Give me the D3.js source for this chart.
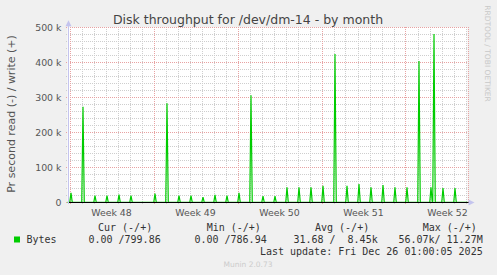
<!DOCTYPE html>
<html>
<head>
<meta charset="utf-8">
<script src="https://cdn.jsdelivr.net/npm/d3@7"></script>
<style>
  body { margin: 0; background: #f0f0f0; }
  svg { display: block; }
  .tick text { font-family: "DejaVu Sans", sans-serif; font-size: 9.4px; fill: #555; }
  .legend { font-family: "DejaVu Sans Mono", monospace; font-size: 10px; fill: #333; white-space: pre; }
</style>
</head>
<body>
<svg id="chart" width="497" height="275"></svg>
<script>

// write (+) samples, daily backup spikes, in bytes per second
let spikeTimes = [
  "2025-11-23T03:00", "2025-11-24T03:00", "2025-11-25T03:00", "2025-11-26T03:00",
  "2025-11-27T03:00", "2025-11-28T03:00", "2025-11-30T03:00", "2025-12-01T03:00",
  "2025-12-02T03:00", "2025-12-03T03:00", "2025-12-04T03:00", "2025-12-05T03:00",
  "2025-12-06T03:00", "2025-12-07T03:00", "2025-12-08T03:00", "2025-12-09T03:00",
  "2025-12-10T03:00", "2025-12-11T03:00", "2025-12-12T03:00", "2025-12-13T03:00",
  "2025-12-14T03:00", "2025-12-15T03:00", "2025-12-16T03:00", "2025-12-17T03:00",
  "2025-12-18T03:00", "2025-12-19T03:00", "2025-12-20T03:00", "2025-12-21T03:00",
  "2025-12-22T03:00", "2025-12-23T03:00", "2025-12-23T09:00", "2025-12-24T03:00",
  "2025-12-25T03:00"
]
let spikeValues = [
  27000, 273000, 19000, 19000,
  22000, 19000, 25000, 283000,
  19000, 19000, 15000, 21000,
  19000, 27000, 306000, 18000,
  18000, 43000, 43000, 43000,
  47000, 424000, 47000, 52000,
  43000, 49000, 43000, 43000,
  404000, 43000, 481000, 41000,
  41000
]

let yTicks = [0, 100000, 200000, 300000, 400000, 500000]
let weekStarts = ["2025-11-23", "2025-11-30", "2025-12-07", "2025-12-14", "2025-12-21"]

let legendHead = ["Cur (-/+)", "Min (-/+)", "Avg (-/+)", "Max (-/+)"]
let legendVals = ["0.00 /799.86", "0.00 /786.94", "31.68 /  8.45k", "56.07k/ 11.27M"]
let lastUpdate = "Last update: Fri Dec 26 01:00:05 2025"

let parseT = d3.utcParse("%Y-%m-%dT%H:%M")
let parseD = d3.utcParse("%Y-%m-%d")
let hour = 3600 * 1000

let tEnd = parseT("2025-12-26T04:00")
let tStart = new Date(tEnd.getTime() - 800 * hour)

let margin = {left: 67.5, right: 29.5, top: 27.3, bottom: 72.7}
let W = 497, H = 275

let svg = d3.select("#chart")

svg.append("rect").attr("width", W).attr("height", H).attr("fill", "#f0f0f0")

let x = d3.scaleUtc()
    .domain([tStart, tEnd])
    .range([margin.left, W - margin.right])

let y = d3.scaleLinear()
    .domain([0, 500000])
    .range([H - margin.bottom, margin.top])

let x0 = x.range()[0], x1 = x.range()[1]
let y0 = y(0), y1 = y(500000)

svg.append("rect")
    .attr("x", x0).attr("y", y1)
    .attr("width", x1 - x0).attr("height", y0 - y1)
    .attr("fill", "#ffffff")

// grid, minor first
let grid = svg.append("g").attr("shape-rendering", "crispEdges")

let days = d3.utcDay.range(d3.utcDay.ceil(tStart), tEnd)
grid.selectAll(".vmin").data(days).enter().append("line")
    .attr("x1", d => Math.round(x(d)) + 0.5).attr("x2", d => Math.round(x(d)) + 0.5)
    .attr("y1", y1).attr("y2", y0 + 2)
    .attr("stroke", "#cecece").attr("stroke-dasharray", "1,1")

let minorY = d3.range(0, 500001, 20000)
grid.selectAll(".hmin").data(minorY).enter().append("line")
    .attr("x1", x0 - 2).attr("x2", x1)
    .attr("y1", d => Math.round(y(d)) + 0.5).attr("y2", d => Math.round(y(d)) + 0.5)
    .attr("stroke", "#cecece").attr("stroke-dasharray", "1,1")

let weeks = weekStarts.map(parseD)
grid.selectAll(".vmaj").data(weeks).enter().append("line")
    .attr("x1", d => Math.round(x(d)) + 0.5).attr("x2", d => Math.round(x(d)) + 0.5)
    .attr("y1", y1).attr("y2", y0 + 2)
    .attr("stroke", "#e8a2a2").attr("stroke-dasharray", "1,1")

grid.selectAll(".hmaj").data(yTicks).enter().append("line")
    .attr("x1", x0 - 2).attr("x2", x1)
    .attr("y1", d => Math.round(y(d)) + 0.5).attr("y2", d => Math.round(y(d)) + 0.5)
    .attr("stroke", "#e8a2a2").attr("stroke-dasharray", "1,1")

// right frame edge of grid
grid.append("line")
    .attr("x1", Math.round(x1) + 0.5).attr("x2", Math.round(x1) + 0.5)
    .attr("y1", y1).attr("y2", y0)
    .attr("stroke", "#e8a2a2").attr("stroke-dasharray", "1,1")

// the write series: each sample rises from and falls back to zero
let pts = [[tStart, 0]]
spikeTimes.forEach((s, i) => {
    let t = parseT(s)
    pts.push([new Date(t.getTime() - 2.5 * hour), 0])
    pts.push([t, spikeValues[i]])
    pts.push([new Date(t.getTime() + 2.5 * hour), 0])
})
pts.push([tEnd, 0])

let lineFunc = d3.line()
    .x(d => x(d[0]))
    .y(d => y(d[1]))

svg.append("path")
    .attr("fill", "none")
    .attr("stroke", "#00cc00")
    .attr("stroke-width", 1.2)
    .attr("d", lineFunc(pts))

// zero rule
svg.append("line")
    .attr("x1", x0).attr("x2", x1 + 1)
    .attr("y1", Math.round(y0) + 0.5).attr("y2", Math.round(y0) + 0.5)
    .attr("stroke", "#000").attr("shape-rendering", "crispEdges")

// axes with arrows
let axisCol = "#c4c4ee"
svg.append("line")
    .attr("x1", Math.round(x0) + 0.5).attr("x2", Math.round(x0) + 0.5)
    .attr("y1", y0 + 2).attr("y2", y1 - 4)
    .attr("stroke", axisCol).attr("shape-rendering", "crispEdges")
svg.append("path")
    .attr("d", `M${Math.round(x0) - 2.5},${y1 - 1} L${Math.round(x0) + 0.5},${y1 - 7} L${Math.round(x0) + 3.5},${y1 - 1} Z`)
    .attr("fill", axisCol)
svg.append("path")
    .attr("d", `M${x1 + 1},${Math.round(y0) - 2.5} L${x1 + 7},${Math.round(y0) + 0.5} L${x1 + 1},${Math.round(y0) + 3.5} Z`)
    .attr("fill", axisCol)

// y tick labels
let fmtK = d => d === 0 ? "0" : (d / 1000) + " k"
let yAxis = svg.append("g")
    .attr("transform", "translate(" + (x0 - 6) + ",0)")
    .call(d3.axisLeft(y).tickValues(yTicks).tickFormat(fmtK).tickSize(0).tickPadding(0))
yAxis.select(".domain").remove()
yAxis.selectAll("text").attr("dy", "0.36em")

// week labels centred in their week
let fmtWeek = d3.utcFormat("%V")
svg.append("g").selectAll("text").data(weeks).enter().append("text")
    .attr("x", d => x(new Date(d.getTime() + 84 * hour)))
    .attr("y", 215.5)
    .attr("text-anchor", "middle")
    .style("font-family", "DejaVu Sans, sans-serif").style("font-size", "9.4px").style("fill", "#555")
    .text(d => "Week " + fmtWeek(new Date(d.getTime() + 84 * hour)))

// titles
svg.append("text")
    .attr("x", 248).attr("y", 23.5)
    .attr("text-anchor", "middle")
    .style("font-family", "DejaVu Sans, sans-serif").style("font-size", "12.5px").style("fill", "#444")
    .text("Disk throughput for /dev/dm-14 - by month")

svg.append("text")
    .attr("transform", "translate(15,114) rotate(-90)")
    .attr("text-anchor", "middle")
    .style("font-family", "DejaVu Sans, sans-serif").style("font-size", "11px").style("fill", "#555")
    .text("Pr second read (-) / write (+)")

svg.append("text")
    .attr("transform", "translate(485,53.5) rotate(90)")
    .attr("text-anchor", "middle")
    .style("font-family", "DejaVu Sans, sans-serif").style("font-size", "7.5px").style("fill", "#c8c8c8")
    .text("RRDTOOL / TOBI OETIKER")

// legend
let headX = [98, 206.7, 315, 422.7]
let valEnd = [160.7, 266.7, 377.7, 482.7]

svg.selectAll(".lhead").data(legendHead).enter().append("text")
    .attr("class", "legend")
    .attr("x", (d, i) => headX[i]).attr("y", 231)
    .text(d => d)

svg.append("rect")
    .attr("x", 14).attr("y", 236.5).attr("width", 6).attr("height", 6)
    .attr("fill", "#00cc00")
svg.append("text").attr("class", "legend").attr("x", 26.5).attr("y", 243).text("Bytes")

svg.selectAll(".lval").data(legendVals).enter().append("text")
    .attr("class", "legend")
    .attr("x", (d, i) => valEnd[i]).attr("y", 243)
    .attr("text-anchor", "end")
    .text(d => d)

svg.append("text").attr("class", "legend")
    .attr("x", 482.7).attr("y", 255).attr("text-anchor", "end")
    .text(lastUpdate)

svg.append("text")
    .attr("x", 248).attr("y", 267)
    .attr("text-anchor", "middle")
    .style("font-family", "DejaVu Sans, sans-serif").style("font-size", "7.5px").style("fill", "#cccccc")
    .text("Munin 2.0.73")

</script>
</body>
</html>
